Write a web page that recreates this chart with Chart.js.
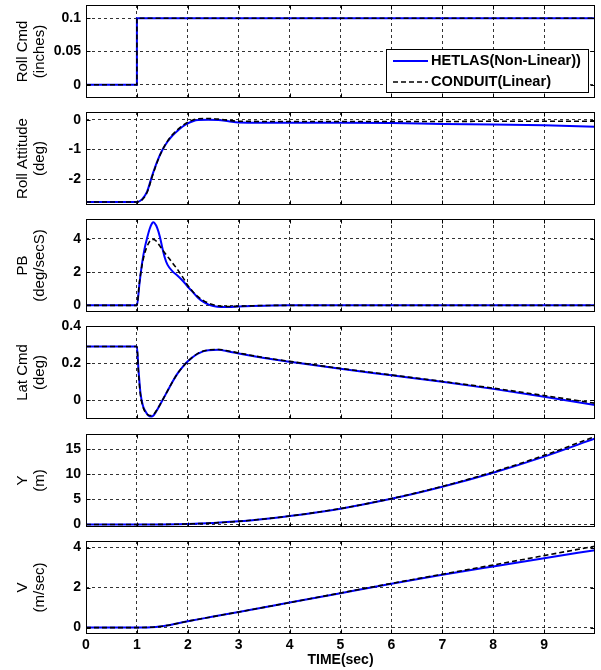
<!DOCTYPE html>
<html>
<head>
<meta charset="utf-8">
<script src="https://cdn.jsdelivr.net/npm/chart.js@4.4.1/dist/chart.umd.min.js"></script>
<style>
  html, body { margin: 0; padding: 0; background: #fff; }
  #wrap { position: relative; width: 601px; height: 670px; overflow: hidden; background: #fff; }
  #wrap canvas { position: absolute; left: 0; }
</style>
</head>
<body>
<div id="wrap"></div>
<script>
const xTicks = [0, 1, 2, 3, 4, 5, 6, 7, 8, 9];

// Roll Cmd (inches)
const tRollCmd = [0, 1, 1, 10];
const rollCmdHet = [0, 0, 0.1, 0.1];
const rollCmdCon = [0, 0, 0.1, 0.1];

// Roll Attitude (deg)
const tRoll = [0, 1.0, 1.1, 1.2, 1.3, 1.4, 1.5, 1.6, 1.7, 1.8, 1.9, 2.0, 2.1, 2.2, 2.4, 2.6, 2.8, 3.0, 4, 5, 6, 7, 8, 9, 10];
const rollHet = [-2.77, -2.77, -2.68, -2.42, -1.88, -1.40, -1.02, -0.74, -0.53, -0.37, -0.23, -0.12, -0.05, -0.01, 0.00, -0.01, -0.05, -0.09, -0.10, -0.10, -0.11, -0.14, -0.16, -0.19, -0.24];
const rollCon = [-2.77, -2.77, -2.70, -2.45, -1.92, -1.42, -1.02, -0.72, -0.50, -0.33, -0.19, -0.08, -0.01, 0.03, 0.04, 0.02, -0.02, -0.05, -0.06, -0.06, -0.06, -0.06, -0.05, -0.05, -0.05];

// PB (deg/secS)
const tPB = [0, 1.0, 1.05, 1.1, 1.15, 1.2, 1.25, 1.3, 1.33, 1.37, 1.4, 1.45, 1.5, 1.55, 1.6, 1.7, 1.8, 1.9, 2.0, 2.1, 2.2, 2.3, 2.4, 2.5, 2.65, 2.8, 3.0, 3.5, 4, 10];
const pbHet = [0, 0, 1.3, 2.5, 3.4, 4.05, 4.6, 4.95, 5.0, 4.85, 4.65, 4.15, 3.45, 2.85, 2.45, 2.05, 1.78, 1.48, 1.12, 0.8, 0.46, 0.22, 0.06, -0.04, -0.1, -0.1, -0.07, -0.02, 0, 0];
const pbCon = [0, 0, 1.4, 2.4, 3.1, 3.55, 3.85, 3.97, 3.97, 3.9, 3.8, 3.58, 3.35, 3.15, 2.95, 2.55, 2.15, 1.7, 1.2, 0.82, 0.52, 0.3, 0.14, 0.04, -0.05, -0.07, -0.05, -0.01, 0, 0];

// Lat Cmd (deg)
const tLat = [0, 1.0, 1.03, 1.07, 1.12, 1.17, 1.22, 1.28, 1.33, 1.4, 1.5, 1.6, 1.7, 1.8, 1.9, 2.0, 2.2, 2.4, 2.6, 2.8, 3.0, 3.5, 4, 5, 6, 7, 8, 9, 10];
const latHet = [0.29, 0.29, 0.17, 0.04, -0.03, -0.06, -0.08, -0.087, -0.08, -0.05, 0.0, 0.05, 0.10, 0.145, 0.18, 0.21, 0.252, 0.27, 0.272, 0.263, 0.252, 0.228, 0.208, 0.17, 0.135, 0.1, 0.062, 0.02, -0.025];
const latCon = [0.29, 0.29, 0.15, 0.03, -0.035, -0.065, -0.078, -0.082, -0.075, -0.048, 0.0, 0.05, 0.10, 0.145, 0.18, 0.21, 0.253, 0.271, 0.274, 0.266, 0.255, 0.23, 0.21, 0.172, 0.137, 0.102, 0.066, 0.026, -0.015];

// Y (m)
const tY = [0, 1, 1.5, 2, 2.5, 3, 3.5, 4, 5, 6, 7, 8, 9, 10];
const yHet = [0, 0, 0.02, 0.1, 0.3, 0.62, 1.1, 1.68, 3.15, 5.1, 7.5, 10.3, 13.5, 17.1];
const yCon = [0, 0, 0.02, 0.1, 0.3, 0.62, 1.1, 1.68, 3.17, 5.15, 7.58, 10.45, 13.75, 17.5];

// V (m/sec)
const tV = [0, 1, 1.2, 1.5, 2, 2.5, 3, 4, 5, 6, 7, 8, 9, 10];
const vHet = [0, 0, 0.01, 0.07, 0.32, 0.55, 0.78, 1.25, 1.72, 2.19, 2.64, 3.06, 3.47, 3.87];
const vCon = [0, 0, 0.01, 0.07, 0.32, 0.55, 0.78, 1.25, 1.73, 2.21, 2.67, 3.13, 3.6, 4.07];

const panels = [
  { title: ['Roll Cmd', '(inches)'], min: -0.02, max: 0.12, ticks: [0, 0.05, 0.1], t: tRollCmd, het: rollCmdHet, con: rollCmdCon, top: 5, smooth: false },
  { title: ['Roll Attitude', '(deg)'], min: -2.87, max: 0.26, ticks: [-2, -1, 0], t: tRoll, het: rollHet, con: rollCon, top: 112, smooth: true },
  { title: ['PB', '(deg/secS)'], min: -0.4, max: 5.2, ticks: [0, 2, 4], t: tPB, het: pbHet, con: pbCon, top: 219, smooth: true },
  { title: ['Lat Cmd', '(deg)'], min: -0.1, max: 0.4, ticks: [0, 0.2, 0.4], t: tLat, het: latHet, con: latCon, top: 326, smooth: true },
  { title: ['Y', '(m)'], min: -0.5, max: 18, ticks: [0, 5, 10, 15], t: tY, het: yHet, con: yCon, top: 434, smooth: true },
  { title: ['V', '(m/sec)'], min: -0.32, max: 4.33, ticks: [0, 2, 4], t: tV, het: vHet, con: vCon, top: 541, smooth: true }
];

const PLOT_H = 93;
const FONT = '"Liberation Sans", Arial, Helvetica, sans-serif';
Chart.defaults.font.family = FONT;
Chart.defaults.color = '#000';

const zip = (xs, ys) => xs.map((x, i) => ({ x: x, y: ys[i] }));

// box round the axes plus MATLAB style inward ticks
const framePlugin = {
  id: 'frame',
  afterDraw(chart) {
    const { ctx, chartArea: a, scales } = chart;
    const l = Math.round(a.left) + 0.5, r = Math.round(a.right) - 0.5;
    const t = Math.round(a.top) + 0.5, b = Math.round(a.bottom) - 0.5;
    ctx.save();
    ctx.strokeStyle = '#000';
    ctx.lineWidth = 1;
    ctx.beginPath();
    scales.x.ticks.forEach(tk => {
      const px = Math.round(scales.x.getPixelForValue(tk.value)) + 0.5;
      ctx.moveTo(px, b); ctx.lineTo(px, b - 4);
      ctx.moveTo(px, t); ctx.lineTo(px, t + 4);
    });
    scales.y.ticks.forEach(tk => {
      const py = Math.round(scales.y.getPixelForValue(tk.value)) + 0.5;
      ctx.moveTo(l, py); ctx.lineTo(l + 4, py);
      ctx.moveTo(r, py); ctx.lineTo(r - 4, py);
    });
    ctx.stroke();
    ctx.strokeRect(l, t, r - l, b - t);
    ctx.restore();
  }
};

const legendPlugin = {
  id: 'boxLegend',
  afterDraw(chart) {
    const { ctx, chartArea: a } = chart;
    const x0 = 386, x1 = 588, y0 = Math.round(a.top) + 44, y1 = Math.round(a.top) + 87;
    ctx.save();
    ctx.fillStyle = '#fff';
    ctx.fillRect(x0, y0, x1 - x0, y1 - y0);
    ctx.strokeStyle = '#000';
    ctx.lineWidth = 1;
    ctx.strokeRect(x0 + 0.5, y0 + 0.5, x1 - x0, y1 - y0);
    ctx.font = 'bold 14.6px ' + FONT;
    ctx.textBaseline = 'middle';
    chart.data.datasets.forEach((ds, k) => {
      const y = Math.round(a.top) + 56 + k * 21;
      ctx.beginPath();
      ctx.setLineDash(ds.borderDash || []);
      ctx.strokeStyle = ds.borderColor;
      ctx.lineWidth = ds.borderWidth;
      ctx.moveTo(393, y);
      ctx.lineTo(428, y);
      ctx.stroke();
      ctx.setLineDash([]);
      ctx.fillStyle = '#000';
      ctx.fillText(ds.label, 431, y);
    });
    ctx.restore();
  }
};

const wrap = document.getElementById('wrap');

panels.forEach((p, i) => {
  const last = i === panels.length - 1;
  const padTop = 8;
  const padBot = last ? 0 : 8;
  const xAxisH = last ? 36 : 0;
  const cv = document.createElement('canvas');
  cv.width = 601;
  cv.height = padTop + PLOT_H + xAxisH + padBot;
  cv.style.top = (p.top - padTop) + 'px';
  wrap.appendChild(cv);

  new Chart(cv, {
    type: 'line',
    data: {
      datasets: [
        { label: 'HETLAS(Non-Linear))', data: zip(p.t, p.het), borderColor: '#0000ff', borderWidth: 2, order: 1 },
        { label: 'CONDUIT(Linear)', data: zip(p.t, p.con), borderColor: '#000000', borderWidth: 1.6, borderDash: [5, 3], order: 0 }
      ]
    },
    options: {
      responsive: false,
      animation: false,
      layout: { padding: { top: padTop, bottom: padBot, left: 0, right: 6 } },
      elements: {
        point: { radius: 0 },
        line: { tension: 0, cubicInterpolationMode: p.smooth ? 'monotone' : 'default' }
      },
      plugins: { legend: { display: false }, tooltip: { enabled: false } },
      scales: {
        x: {
          type: 'linear',
          min: 0,
          max: 10,
          afterBuildTicks: s => { s.ticks = xTicks.map(v => ({ value: v })); },
          afterFit: s => { s.height = xAxisH; s.paddingLeft = 0; s.paddingRight = 0; },
          grid: { color: 'rgba(0,0,0,0.8)', lineWidth: 1, drawTicks: false },
          border: { display: false, dash: [3, 3] },
          ticks: { display: last, padding: 3, font: { size: 14, weight: 'bold' }, maxRotation: 0, callback: v => String(v) },
          title: { display: last, text: 'TIME(sec)', font: { size: 14, weight: 'bold' }, padding: { top: 0, bottom: 1 } }
        },
        y: {
          min: p.min,
          max: p.max,
          afterBuildTicks: s => { s.ticks = p.ticks.map(v => ({ value: v })); },
          afterFit: s => { s.width = 86; s.paddingTop = 0; s.paddingBottom = 0; },
          grid: { color: 'rgba(0,0,0,0.8)', lineWidth: 1, drawTicks: false },
          border: { display: false, dash: [3, 3] },
          ticks: { padding: 5, font: { size: 14, weight: 'bold' }, callback: v => String(v) },
          title: { display: true, text: p.title, font: { size: 15, lineHeight: 1.1 }, padding: { top: 15, bottom: 0 } }
        }
      }
    },
    plugins: i === 0 ? [framePlugin, legendPlugin] : [framePlugin]
  });
});
</script>
</body>
</html>
